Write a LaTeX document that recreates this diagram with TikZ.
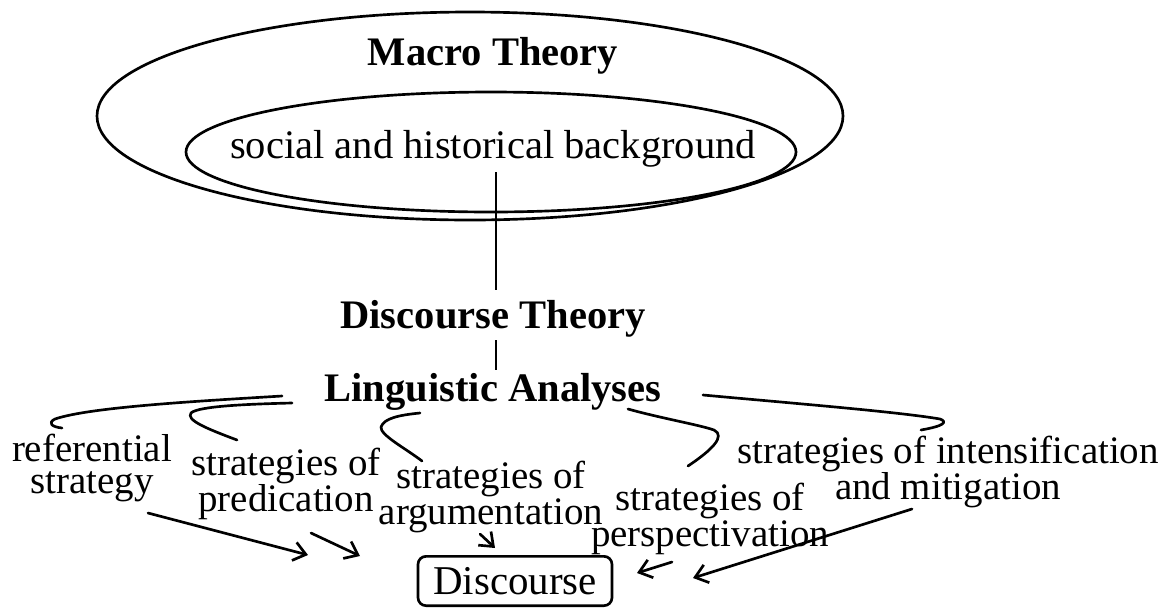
\documentclass[tikz,border=0pt]{standalone}
\usepackage{fontspec}
\setmainfont{Liberation Serif}
\usetikzlibrary{shapes.geometric,arrows.meta}
\begin{document}
\begin{tikzpicture}[x=0.75pt,y=-0.75pt,
  stroke/.style={line width=2pt,line cap=round,line join=round},
  ring/.style={draw,ellipse,stroke,inner sep=0pt},
  title/.style={font=\fontsize{30.4}{30}\selectfont\bfseries,inner sep=0pt},
  plain/.style={font=\fontsize{30.4}{30}\selectfont,inner sep=0pt},
  label/.style={font=\fontsize{29.2}{24}\selectfont,align=center,inner sep=0pt},
  hook/.style={stroke},
  arr/.style={stroke,-{Straight Barb[length=9pt,width=14pt,line width=2pt]}},
  result/.style={draw,stroke,rounded corners=6pt,minimum width=145.5pt,minimum height=37pt,
    font=\fontsize{30.7}{31}\selectfont,inner sep=0pt}]
\useasboundingbox (0,0) rectangle (1164,608);

% nested context ellipses
\node[ring,minimum width=559.5pt,minimum height=156pt] (outer) at (470,116) {};
\node[ring,minimum width=457.5pt,minimum height=90pt] (inner) at (491,152) {};
\node[title] (mt) at (493,56) {Macro Theory};
\node[plain] (bg) at (493,149) {social and historical background};

% theory levels
\node[title] (dt) at (493,319) {Discourse Theory};
\node[title] (la) at (493,392) {Linguistic Analyses};
\coordinate (bgfoot) at (496,172);
\coordinate (dttop) at (496,290);
\coordinate (dtfoot) at (496,340);
\coordinate (latop) at (496,370);
\draw[stroke,line cap=butt] (bgfoot) -- (dttop);
\draw[stroke,line cap=butt] (dtfoot) -- (latop);

% strategy labels
\node[label] (ref) at (92,468) {referential\\strategy};
\node[label] (pred) at (286,484) {strategies of\\predication};
\node[label] (arg) at (491,497) {strategies of\\argumentation};
\node[label] (persp) at (710,519) {strategies of\\perspectivation};
\node[label] (int) at (948,472) {strategies of intensification\\and mitigation};

% result box
\node[result] (disc) at (515,581) {Discourse};

% hooked strokes from the analyses to each strategy
\coordinate (h1a) at (282,396);
\coordinate (h1b) at (62,428);
\draw[hook] (h1a) .. controls (200,401) and (90,407) .. (55,419)
  .. controls (47,423) and (52,427) .. (h1b);
\coordinate (h2a) at (292,403);
\coordinate (h2b) at (237,440);
\draw[hook] (h2a) .. controls (250,404) and (198,406) .. (191,413)
  .. controls (186,420) and (205,428) .. (h2b);
\coordinate (h3a) at (420,413);
\coordinate (h3b) at (422,461);
\draw[hook] (h3a) .. controls (400,415) and (384,418) .. (381,427)
  .. controls (380,435) and (405,448) .. (h3b);
\coordinate (h4a) at (628,409);
\coordinate (h4b) at (688,466);
\draw[hook] (h4a) .. controls (660,418) and (700,425) .. (714,430)
  .. controls (726,436) and (712,450) .. (h4b);
\coordinate (h5a) at (703,395);
\coordinate (h5b) at (921,430);
\draw[hook] (h5a) .. controls (790,403) and (900,412) .. (940,419)
  .. controls (948,422) and (944,426) .. (h5b);

% arrows from each strategy to the discourse
\coordinate (a1s) at (148,513); \coordinate (a1e) at (308,555);
\coordinate (a2s) at (311,533); \coordinate (a2e) at (360,556);
\coordinate (a3s) at (480,534); \coordinate (a3e) at (495,548);
\coordinate (a4s) at (672,562); \coordinate (a4e) at (637,573);
\coordinate (a5s) at (912,509); \coordinate (a5e) at (693,578);
\draw[arr] (a1s) -- (a1e);
\draw[arr] (a2s) -- (a2e);
\draw[arr] (a3s) -- (a3e);
\draw[arr] (a4s) -- (a4e);
\draw[arr] (a5s) -- (a5e);
\end{tikzpicture}
\end{document}
